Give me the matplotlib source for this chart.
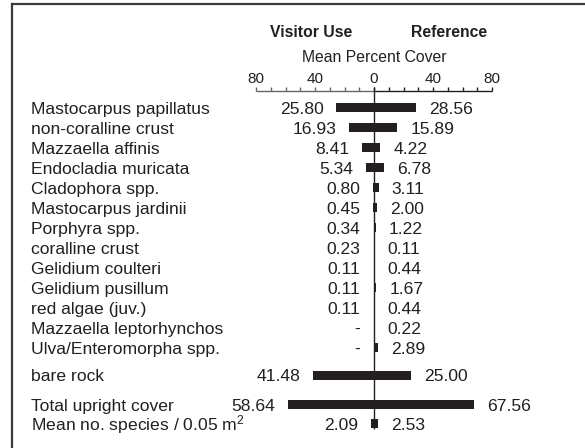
import numpy as np
import matplotlib
matplotlib.use("Agg")
import matplotlib.pyplot as plt
from matplotlib.lines import Line2D
from matplotlib.transforms import blended_transform_factory

plt.rcParams['font.family'] = ['Liberation Sans', 'DejaVu Sans']
plt.rcParams['mathtext.fontset'] = 'custom'
plt.rcParams['mathtext.rm'] = 'Liberation Sans'
plt.rcParams['mathtext.it'] = 'Liberation Sans'

categories = ["Mastocarpus papillatus", "non-coralline crust", "Mazzaella affinis",
              "Endocladia muricata", "Cladophora spp.", "Mastocarpus jardinii",
              "Porphyra spp.", "coralline crust", "Gelidium coulteri",
              "Gelidium pusillum", "red algae (juv.)", "Mazzaella leptorhynchos",
              "Ulva/Enteromorpha spp.", "bare rock", "Total upright cover",
              r"Mean no. species / 0.05 m$^{\mathrm{2}}$"]
# None = not recorded at the site (shown as "-")
visitor = [25.80, 16.93, 8.41, 5.34, 0.80, 0.45, 0.34, 0.23, 0.11,
           0.11, 0.11, None, None, 41.48, 58.64, 2.09]
reference = [28.56, 15.89, 4.22, 6.78, 3.11, 2.00, 1.22, 0.11, 0.44,
             1.67, 0.44, 0.22, 2.89, 25.00, 67.56, 2.53]

# row positions (species rows, then the summary rows set apart)
ypos = list(range(13)) + [13.37, 14.85, 15.81]

ink = "#231f20"
fig = plt.figure(figsize=(5.85, 4.48), dpi=100)
ax = fig.add_axes([0, 0, 1, 1])
ax.set_xlim(-253.6, 143.05)
ax.set_ylim(17.015, -5.385)
ax.axis('off')

vis = np.array([np.nan if v is None else v for v in visitor])
ref = np.array(reference)
ax.barh(ypos, -np.nan_to_num(vis), height=0.45, color=ink, linewidth=0)
ax.barh(ypos, ref, height=0.45, color=ink, linewidth=0)

lab_tr = blended_transform_factory(ax.transAxes, ax.transData)
for y, name, v, r in zip(ypos, categories, vis, ref):
    ax.annotate(name, (0.0525, y), xycoords=lab_tr, xytext=(0, -4.5),
                textcoords='offset points', va='baseline', ha='left',
                fontsize=12.6, color=ink)
    vtxt = "-" if np.isnan(v) else f"{v:.2f}"
    vx = min(-(0 if np.isnan(v) else v), -9.2 + 9.0 / 1.475 * 100 / 72)
    ax.annotate(vtxt, (vx, y), xytext=(-9, -4.5), textcoords='offset points',
                va='baseline', ha='right', fontsize=12.6, color=ink)
    rx = max(r, 8.1 - 9.0 / 1.475 * 100 / 72)
    ax.annotate(f"{r:.2f}", (rx, y), xytext=(9.5, -4.5), textcoords='offset points',
                va='baseline', ha='left', fontsize=12.6, color=ink)

# percent-cover scale drawn above the rows
scale_y = -0.835
ticks = np.arange(-80, 81, 10)
ax.hlines(scale_y, -80, 0, color="#666666", lw=1.0)
ax.hlines(scale_y, 0, 80, color=ink, lw=1.0)
for t in ticks:
    ax.vlines(t, scale_y - 0.2, scale_y, color="#666666" if t < 0 else ink, lw=1.0)
for t in ticks[::4]:
    ax.text(t, -1.22, f"{abs(t)}", ha='center', va='baseline', fontsize=11, color=ink)
ax.text(0, -2.285, "Mean Percent Cover", ha='center', va='baseline', fontsize=11.3, color=ink)
ax.text(-42.8, -3.55, "Visitor Use", ha='center', va='baseline', fontsize=11.3,
        fontweight='bold', color=ink)
ax.text(50.7, -3.55, "Reference", ha='center', va='baseline', fontsize=11.3,
        fontweight='bold', color=ink)

# zero line
ax.vlines(0, scale_y - 0.2, 16.07, color=ink, lw=1.0)

# frame lines (left and top)
W, H = 585, 448
fig.add_artist(Line2D([12 / W, 12 / W], [0, 1 - 4 / H], color="#3a3a3a", lw=1.6))
fig.add_artist(Line2D([12 / W, 1], [1 - 4 / H, 1 - 4 / H], color="#3a3a3a", lw=1.6))

fig.savefig("out.png", dpi=100)
